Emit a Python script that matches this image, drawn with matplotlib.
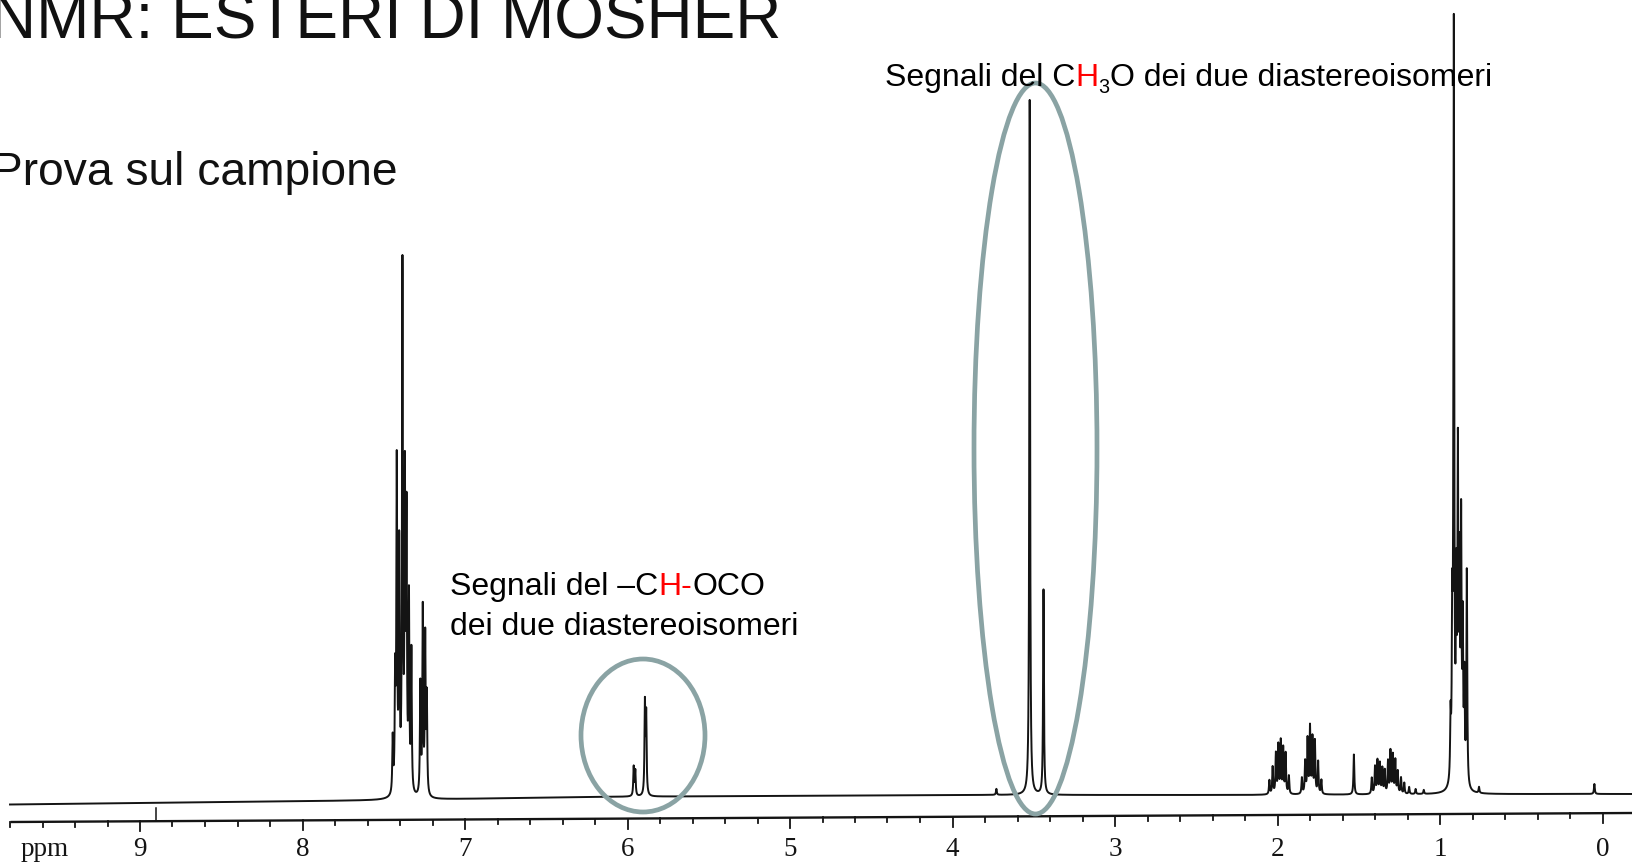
import matplotlib.pyplot as plt
import numpy as np
from matplotlib.patches import Ellipse

# peak list: position (ppm), height (px above baseline)
arom_ppm = [7.445, 7.43, 7.42, 7.405, 7.385, 7.37, 7.36, 7.345, 7.33, 7.275, 7.26, 7.245, 7.235]
arom_h = [55, 110, 325, 240, 520, 300, 265, 190, 140, 110, 185, 155, 95]
choco_ppm = [5.962, 5.952, 5.893, 5.885]
choco_h = [29, 25, 90, 78]
ome_ppm = [3.73, 3.525, 3.44]
ome_h = [6, 695, 205]
ali_ppm = [2.05, 2.03, 2.01, 1.995, 1.98, 1.965, 1.95, 1.93,
           1.85, 1.83, 1.815, 1.80, 1.785, 1.77, 1.75, 1.73,
           1.53,
           1.42, 1.40, 1.385, 1.37, 1.355, 1.34, 1.32, 1.305, 1.29, 1.275, 1.26, 1.24, 1.22, 1.19, 1.15, 1.10]
ali_h = [14, 27, 40, 48, 52, 45, 40, 18,
         16, 32, 54, 66, 55, 52, 32, 14,
         40,
         16, 27, 33, 30, 25, 23, 32, 42, 38, 33, 22, 16, 11, 7, 5, 4]
me_ppm = [0.935, 0.925, 0.915, 0.90, 0.89, 0.88, 0.87, 0.86, 0.85, 0.835, 0.76, 0.05]
me_h = [60, 150, 752, 180, 315, 200, 250, 150, 100, 215, 6, 10]

# baseline drift of the paper (ppm, px from top)
base_ppm = [-0.18, 0.26, 2.18, 4.10, 6.28, 7.56, 9.80]
base_y = [794, 794, 795, 795, 797, 800.4, 804.5]

# scale line
scale_ppm = [9.79, -0.18]
scale_y = [822, 813]
tick_labels = ['9', '8', '7', '6', '5', '4', '3', '2', '1', '0']
tick_pos = [9, 8, 7, 6, 5, 4, 3, 2, 1, 0]
marker_ppm = [8.9]

W, H = 1632, 867
ppm_left = 9 + 140 / 162.5
ppm_right = 9 - (W - 140) / 162.5

fig = plt.figure(figsize=(W / 100, H / 100), dpi=100)
fig.patch.set_facecolor('white')
ax = fig.add_axes([0, 0, 1, 1])
ax.set_xlim(ppm_left, ppm_right)
ax.set_ylim(H, 0)
ax.axis('off')

peaks_ppm = np.array(arom_ppm + choco_ppm + ome_ppm + ali_ppm + me_ppm)
peaks_h = np.array(arom_h + choco_h + ome_h + ali_h + me_h, dtype=float)

x = np.linspace(9.80, ppm_right, 40000)
g = 0.003
spec = np.zeros_like(x)
for p, h in zip(peaks_ppm, peaks_h):
    spec += h * g**2 / ((x - p)**2 + g**2)
base = np.interp(x, base_ppm, base_y)
ax.plot(x, base - spec, color='#141414', lw=1.4)

# scale line with ticks
def scale_at(p):
    return np.interp(p, scale_ppm[::-1], scale_y[::-1])

ax.plot(scale_ppm, scale_y, color='#141414', lw=1.7)
minor = np.round(np.arange(0, 9.81, 0.2), 1)
for t in minor:
    y0 = scale_at(t)
    ln = 10 if abs(t - round(t)) < 1e-6 else 5
    ax.plot([t, t], [y0, y0 + ln], color='#141414', lw=1.3)
for t in marker_ppm:
    y0 = scale_at(t)
    ax.plot([t, t], [y0, y0 - 13], color='#141414', lw=1.1)
for t, lab in zip(tick_pos, tick_labels):
    ax.text(t, 850, lab, ha='center', va='center', fontsize=19.5,
            family='Liberation Serif', color='#141414')
ax.text(9 - (21 - 140) / 162.5, 850, 'ppm', ha='left', va='center', fontsize=19.5,
        family='Liberation Serif', color='#141414')

# overlay in pixel units for texts and ellipses
ov = fig.add_axes([0, 0, 1, 1])
ov.set_xlim(0, W)
ov.set_ylim(H, 0)
ov.axis('off')
ov.patch.set_alpha(0)

ov.text(-10, 38.5, 'NMR: ESTERI DI MOSHER', fontsize=46, family='Liberation Sans',
        va='baseline', color='#111111')
ov.text(-8, 185, 'Prova sul campione', fontsize=33.2, family='Liberation Sans',
        va='baseline', color='#111111')

fig.canvas.draw()
r = fig.canvas.get_renderer()

def rich(x0, y0, parts, size):
    for s, c, sub in parts:
        fs = size * 0.62 if sub else size
        dy = size * 0.3 if sub else 0
        t = ov.text(x0, y0 + dy, s, color=c, fontsize=fs, family='Liberation Sans',
                    va='baseline')
        x0 += t.get_window_extent(r).width

rich(885, 86, [('Segnali del C', 'black', False), ('H', '#ff0000', False),
               ('3', 'black', True), ('O dei due diastereoisomeri', 'black', False)], 23)
rich(450, 595, [('Segnali del \u2013C', 'black', False), ('H-', '#ff0000', False),
                ('OCO', 'black', False)], 23)
rich(450, 635, [('dei due diastereoisomeri', 'black', False)], 23)

ov.add_patch(Ellipse((643, 735.5), 124, 153, fill=False, ec='#8aa3a4', lw=3.4))
ov.add_patch(Ellipse((1035.5, 448.5), 123, 731, fill=False, ec='#8aa3a4', lw=3.4))

fig.savefig('out.png', dpi=100, facecolor='white')
